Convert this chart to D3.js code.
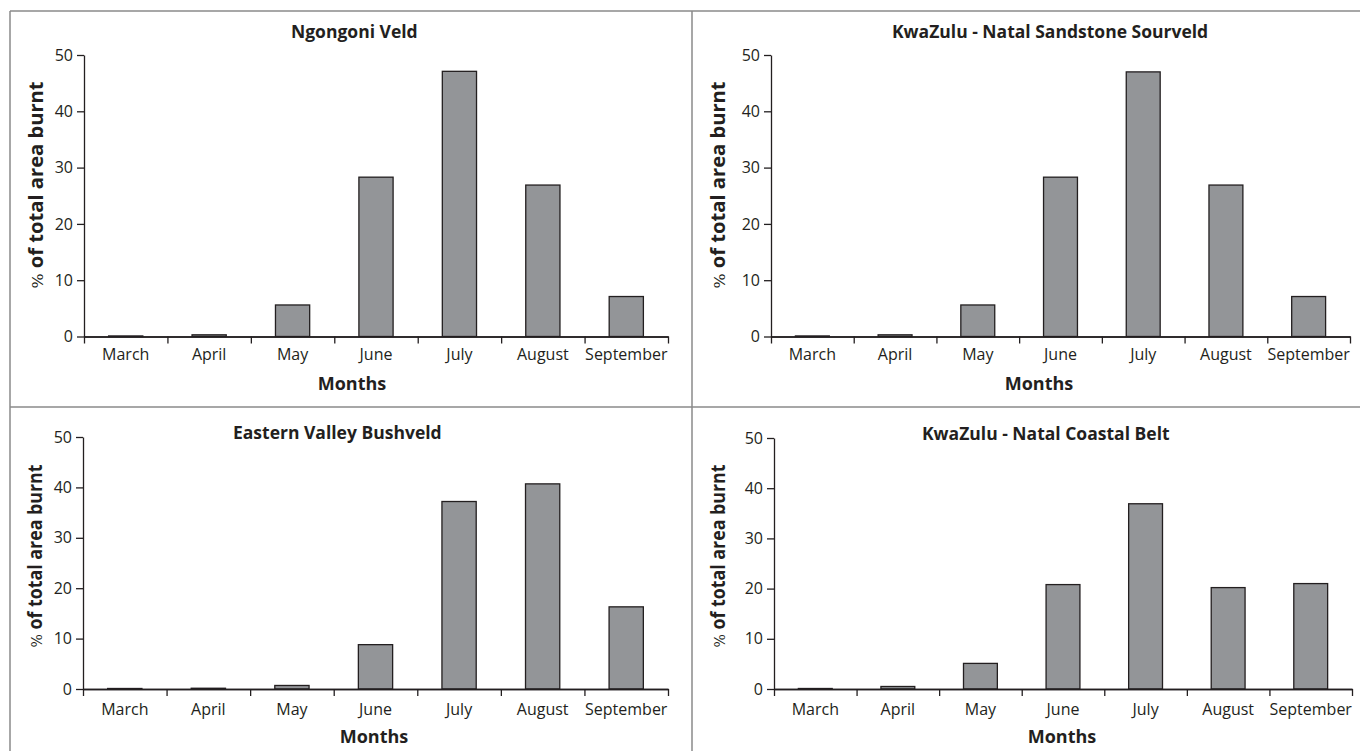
<!DOCTYPE html>
<meta charset="utf-8">
<script src="https://d3js.org/d3.v7.min.js"></script>
<head>
  <style>
  body { margin: 0; background: #fff; }
  text { font-family: "Open Sans", sans-serif; fill: #231f20; }
  </style>
</head>
<body>
<div id="my_dataviz"></div>
<script>

// months on the x axis
var months = ["March", "April", "May", "June", "July", "August", "September"]

// % of total area burnt, one array per vegetation type
var ngongoni  = [0.1, 0.3, 5.6, 28.3, 47.1, 26.9, 7.1]
var sandstone = [0.1, 0.3, 5.6, 28.3, 47.0, 26.9, 7.1]
var eastern   = [0.1, 0.15, 0.7, 8.8, 37.2, 40.7, 16.3]
var coastal   = [0.1, 0.5, 5.1, 20.8, 36.9, 20.2, 21.0]

var titles = ["Ngongoni Veld", "KwaZulu - Natal Sandstone Sourveld",
              "Eastern Valley Bushveld", "KwaZulu - Natal Coastal Belt"]
var yTicks = [0, 10, 20, 30, 40, 50]

var width = 1360
    height = 751

var svg = d3.select("#my_dataviz")
  .append("svg")
  .attr("width", width)
  .attr("height", height)

// frame around the four panels
var frame = svg.append("g")
  .attr("stroke", "#8a8a8a")
  .attr("stroke-width", 1.5)
  .attr("fill", "none")
frame.append("line").attr("x1", 10).attr("x2", 1360).attr("y1", 11).attr("y2", 11)
frame.append("line").attr("x1", 10).attr("x2", 10).attr("y1", 11).attr("y2", 751)
frame.append("line").attr("x1", 692).attr("x2", 692).attr("y1", 11).attr("y2", 751)
frame.append("line").attr("x1", 10).attr("x2", 1360).attr("y1", 407).attr("y2", 407)

// where each panel sits
var panels = [
  {data: ngongoni,  title: titles[0], x0: 84,  x1: 668,  y0: 336.5, y1: 55,  titleX: 291, titleY: 38,  monthsX: 352,  monthsY: 390, ylabX: 43,  ylabY: 185, ylabLen: 207, pad: 5},
  {data: sandstone, title: titles[1], x0: 771, x1: 1350, y0: 336.5, y1: 55,  titleX: 892, titleY: 38,  monthsX: 1039, monthsY: 390, ylabX: 725, ylabY: 185, ylabLen: 207, pad: 5},
  {data: eastern,   title: titles[2], x0: 83,  x1: 668,  y0: 689,   y1: 437, titleX: 233, titleY: 439, monthsX: 374,  monthsY: 743, ylabX: 42,  ylabY: 556, ylabLen: 183, pad: 8},
  {data: coastal,   title: titles[3], x0: 774, x1: 1352, y0: 689,   y1: 438, titleX: 922, titleY: 440, monthsX: 1062, monthsY: 743, ylabX: 725, ylabY: 556, ylabLen: 183, pad: 8}
]

panels.forEach(function(p) {
  var g = svg.append("g")

  var x = d3.scaleBand()
    .domain(months)
    .range([p.x0, p.x1])
    .padding(0)

  var y = d3.scaleLinear()
    .domain([0, 50])
    .range([p.y0, p.y1])

  // bars
  var bw = x.bandwidth() * 0.41
  g.selectAll("rect")
    .data(p.data)
    .enter()
    .append("rect")
    .attr("x", function(d, i) { return x(months[i]) + (x.bandwidth() - bw) / 2 })
    .attr("width", bw)
    .attr("y", function(d) { return y(d) })
    .attr("height", function(d) { return y(0) - y(d) })
    .attr("fill", "#939598")
    .attr("stroke", "#231f20")
    .attr("stroke-width", 1.3)

  // y axis
  var ya = g.append("g")
    .attr("transform", "translate(" + p.x0 + ",0)")
    .call(d3.axisLeft(y).tickValues(yTicks).tickSize(7).tickSizeOuter(0).tickPadding(4))
  ya.selectAll("text").style("font-size", "16px").attr("fill", "#231f20")

  // x axis: category labels
  var xa = g.append("g")
    .attr("transform", "translate(0," + p.y0 + ")")
    .call(d3.axisBottom(x).tickSize(0).tickPadding(7 + p.pad))
  xa.selectAll("text").style("font-size", "16px").attr("fill", "#231f20")

  // x axis: tick marks between categories
  var xb = d3.scaleLinear().domain([0, months.length]).range([p.x0, p.x1])
  g.append("g")
    .attr("transform", "translate(0," + p.y0 + ")")
    .call(d3.axisBottom(xb).tickValues(d3.range(months.length + 1)).tickFormat("").tickSize(7).tickSizeOuter(0))

  g.selectAll(".domain, .tick line").attr("stroke", "#231f20").attr("stroke-width", 1.3)

  // titles
  g.append("text")
    .attr("x", p.titleX)
    .attr("y", p.titleY)
    .style("font-size", "17.5px")
    .style("font-weight", "bold")
    .text(p.title)

  g.append("text")
    .attr("x", p.monthsX)
    .attr("y", p.monthsY)
    .attr("text-anchor", "middle")
    .style("font-size", "18px")
    .style("font-weight", "bold")
    .text("Months")

  var yl = g.append("text")
    .attr("transform", "translate(" + p.ylabX + "," + p.ylabY + ") rotate(-90)")
    .attr("text-anchor", "middle")
    .attr("textLength", p.ylabLen)
    .attr("lengthAdjust", "spacingAndGlyphs")
    .style("font-size", "19px")
    .style("font-weight", "bold")
  yl.append("tspan").style("font-weight", "normal").style("font-family", "DejaVu Serif").style("font-size", "15px").text("%")
  yl.append("tspan").text(" of total area burnt")
})

</script>
</body>
